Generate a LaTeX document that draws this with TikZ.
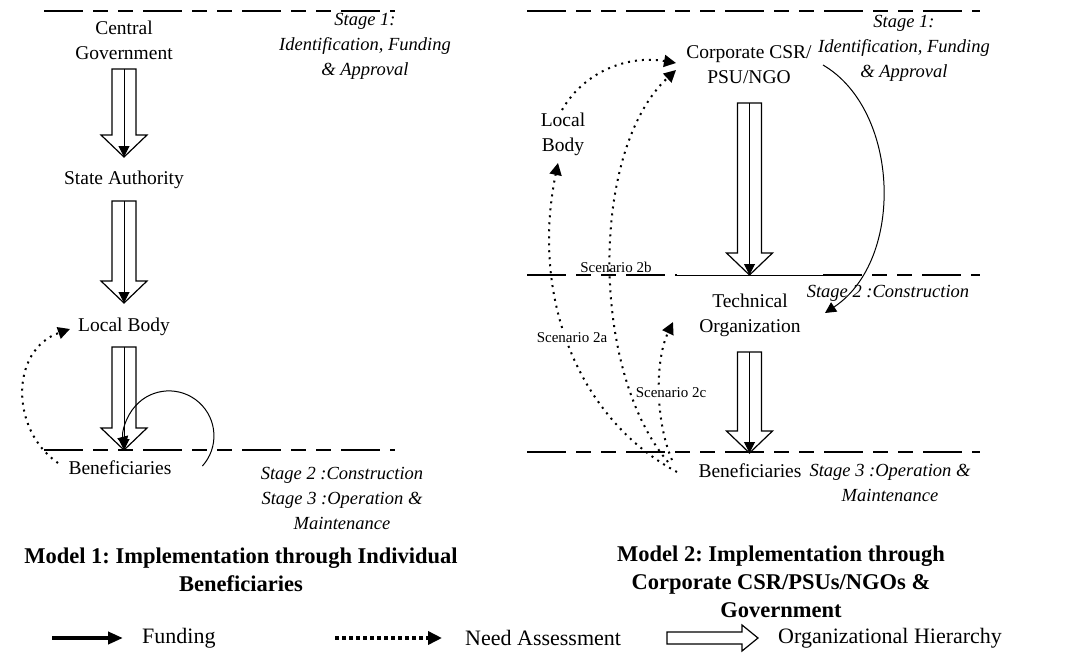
\documentclass[tikz,border=0pt]{standalone}
\usepackage{fontspec}
\setmainfont{Liberation Serif}
\usetikzlibrary{arrows.meta,calc}
\frenchspacing

\tikzset{
  lbl/.style={font=\fontsize{19.5}{25}\selectfont, align=center, inner sep=0pt},
  stage/.style={font=\fontsize{18.5}{25}\selectfont\itshape, align=center, inner sep=0pt},
  ttl/.style={font=\fontsize{22.5}{28}\selectfont\bfseries, align=center, inner sep=0pt},
  scen/.style={font=\fontsize{15}{17}\selectfont, inner sep=1pt},
  leg/.style={font=\fontsize{22}{26}\selectfont, anchor=west, inner sep=0pt},
  level/.style={line width=1.7pt, dash pattern=on 39pt off 10pt on 15pt off 10pt on 15pt off 10pt},
  fund/.style={line width=1pt, -{Triangle[length=11pt,width=11pt]}},
  need/.style={line width=2pt, dash pattern=on 2pt off 5pt, -{Triangle[length=12pt,width=12pt]}},
  hier/.style={line width=1.2pt, fill=white, line join=miter},
}

% hollow hierarchy arrow from #1 (top of shaft) down to #2 (tip), with a funding line inside
\newcommand\hollowdown[2]{%
  \draw[hier] let \p1=(#1), \p2=(#2) in
    (\x1-12pt,\y1) -- (\x1+12pt,\y1) -- (\x1+12pt,\y2+22pt) -- (\x1+23pt,\y2+22pt)
    -- (\x2,\y2) -- (\x1-23pt,\y2+22pt) -- (\x1-12pt,\y2+22pt) -- cycle;
  \draw[fund] (#1) -- (#2);}

\begin{document}
\begin{tikzpicture}[x=1pt,y=-1pt]
\useasboundingbox (0,0) rectangle (1080,657);

% ---------------- Model 1 ----------------
\draw[level] (44,11) -- (395,11);
\draw[level] (44,450) -- (395,450);

\node[lbl] (cg)   at (124,40)  {Central\\Government};
\node[lbl] (sa)   at (124,180) {State Authority};
\node[lbl] (lb1)  at (124,327) {Local Body};
\node[lbl] (ben1) at (120,468) {Beneficiaries};

\node[stage] (st1a)  at (365,46)  {Stage 1:\\Identification, Funding\\\& Approval};
\node[stage] (st23a) at (342,498) {Stage 2 :Construction\\Stage 3 :Operation \&\\Maintenance};

\coordinate (h1s) at (124,69);  \coordinate (h1e) at (124,157);
\coordinate (h2s) at (124,201); \coordinate (h2e) at (124,303);
\coordinate (h3s) at (124,347); \coordinate (h3e) at (124,450);
\hollowdown{h1s}{h1e}
\hollowdown{h2s}{h2e}
\hollowdown{h3s}{h3e}

% need assessment loop from beneficiaries back to the local body
\coordinate (n1s) at (58,463);
\coordinate (n1e) at (70,329);
\draw[need] (n1s) .. controls (10,430) and (10,350) .. (n1e);

% funding loop returning to the beneficiaries
\coordinate (f1s) at (202.4,466);
\draw[fund] (f1s) arc[start angle=42, end angle=-195, radius=45];

\node[ttl] (title1) at (241,570) {Model 1: Implementation through Individual\\Beneficiaries};

% ---------------- Model 2 ----------------
\draw[level] (527,11) -- (980,11);
\draw[level] (527,275) -- (677,275);
\draw[line width=0.8pt] (677,275) -- (823,275);
\draw[level] (823,275) -- (980,275);
\draw[level] (527,452) -- (980,452);

\node[lbl] (corp) at (749,65)  {Corporate CSR/\\PSU/NGO};
\node[lbl] (lb2)  at (563,134) {Local\\Body};
\node[lbl] (tech) at (750,315) {Technical\\Organization};
\node[lbl] (ben2) at (750,471) {Beneficiaries};

\node[stage] (st1b) at (904,48)  {Stage 1:\\Identification, Funding\\\& Approval};
\node[stage] (st2b) at (888,293) {Stage 2 :Construction};
\node[stage] (st3b) at (890,483) {Stage 3 :Operation \&\\Maintenance};

\coordinate (h4s) at (749.5,103); \coordinate (h4e) at (749.5,275);
\coordinate (h5s) at (749.5,352); \coordinate (h5e) at (749.5,453);
\hollowdown{h4s}{h4e}
\hollowdown{h5s}{h5e}

% funding from the corporate body to the technical organization
\coordinate (f2s) at (823,65);
\coordinate (f2e) at (825,313);
\draw[fund] (f2s) .. controls (900,110) and (905,260) .. (f2e);

% need assessment scenarios
\coordinate (lbtop) at (562,110);
\coordinate (corpin) at (676,63);
\coordinate (corpin2) at (676,70);
\coordinate (lbbot) at (558,163);
\coordinate (techin) at (673,322);
\coordinate (b2a) at (677,472);
\coordinate (b2b) at (668,462);
\coordinate (b2c) at (672,460);
\draw[need] (lbtop) .. controls (585,70) and (630,55) .. (corpin);
\draw[need] (b2b) .. controls (590,370) and (590,150) .. (corpin2);
\draw[need] (b2a) .. controls (580,420) and (530,300) .. (lbbot);
\draw[need] (b2c) .. controls (655,420) and (655,360) .. (techin);

\node[scen] (s2b) at (616,267) {Scenario 2b};
\node[scen, fill=white] (s2a) at (572,338) {Scenario 2a};
\node[scen, fill=white] (s2c) at (671,393) {Scenario 2c};

\node[ttl] (title2) at (781,582) {Model 2: Implementation through\\Corporate CSR/PSUs/NGOs \&\\Government};

% ---------------- Legend ----------------
\coordinate (lf1) at (52,638);  \coordinate (lf2) at (123,638);
\draw[line width=4pt, -{Triangle[length=15pt,width=12pt]}] (lf1) -- (lf2);
\node[leg] (lfund) at (142,638) {Funding};

\coordinate (ln1) at (335,638); \coordinate (ln2) at (442,638);
\draw[line width=4pt, dash pattern=on 4pt off 3pt, -{Triangle[length=14pt,width=13pt]}] (ln1) -- (ln2);
\node[leg] (lneed) at (465,638) {Need Assessment};

\coordinate (lh) at (667,638);
\draw[hier] let \p1=(lh) in
  (\x1,\y1+6pt) -- (\x1+75pt,\y1+6pt) -- (\x1+75pt,\y1+13pt) -- (\x1+91pt,\y1)
  -- (\x1+75pt,\y1-13pt) -- (\x1+75pt,\y1-6pt) -- (\x1,\y1-6pt) -- cycle;
\node[leg] (lhier) at (778,638) {Organizational Hierarchy};
\end{tikzpicture}
\end{document}
